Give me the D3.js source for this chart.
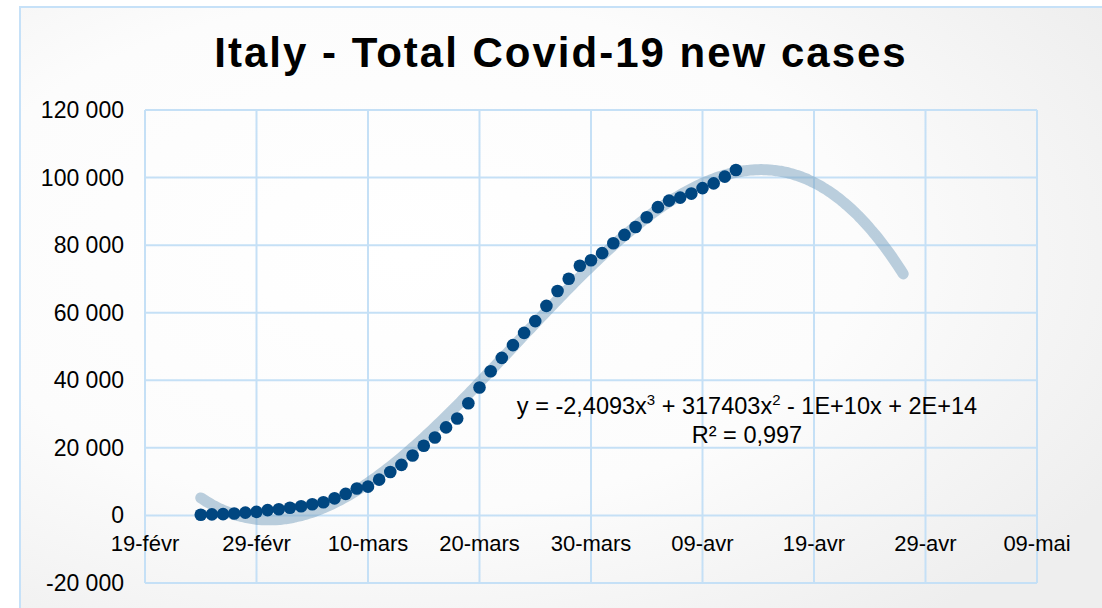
<!DOCTYPE html>
<html>
<head>
<meta charset="utf-8">
<script src="https://cdn.jsdelivr.net/npm/d3@7"></script>
<style>
  body { margin: 0; background: #fff; }
  text { font-family: "Liberation Sans", Arial, sans-serif; fill: #000; }
</style>
</head>
<body>
<div id="chart"></div>
<script>
// Italy - total positive cases, one value per day starting 24 Feb 2020
const startDate = "2020-02-24";
const cases = [
  221, 311, 385, 588, 821, 1049, 1577, 1835, 2263, 2706,
  3296, 3916, 5061, 6387, 7985, 8514, 10590, 12839, 14955, 17750,
  20603, 23073, 26062, 28710, 33190, 37860, 42681, 46638, 50418, 54030,
  57521, 62013, 66414, 70065, 73880, 75528, 77635, 80572, 83049, 85388,
  88274, 91246, 93187, 94067, 95262, 96877, 98273, 100269, 102253
];
const forwardDays = 15;   // trendline forecast
const xTickDates = ["2020-02-19", "2020-02-29", "2020-03-10", "2020-03-20", "2020-03-30",
                    "2020-04-09", "2020-04-19", "2020-04-29", "2020-05-09"];
const xTickLabels = ["19-févr", "29-févr", "10-mars", "20-mars", "30-mars",
                     "09-avr", "19-avr", "29-avr", "09-mai"];
const yTicks = [-20000, 0, 20000, 40000, 60000, 80000, 100000, 120000];
const title = "Italy - Total Covid-19 new cases";
const eqLine1 = ["y = -2,4093x", "3", " + 317403x", "2", " - 1E+10x + 2E+14"];
const eqLine2 = "R² = 0,997";

const width = 1102, height = 608;
const margin = {left: 145, right: 65, top: 110, bottom: 25};

const svg = d3.select("#chart").append("svg")
    .attr("width", width)
    .attr("height", height);

// background
let defs = svg.append("defs");
let grad = defs.append("radialGradient")
    .attr("id", "bg")
    .attr("cx", "35%").attr("cy", "40%").attr("r", "75%");
grad.append("stop").attr("offset", "0%").attr("stop-color", "#ffffff");
grad.append("stop").attr("offset", "55%").attr("stop-color", "#fcfcfc");
grad.append("stop").attr("offset", "100%").attr("stop-color", "#eeeeee");

svg.append("rect")
    .attr("x", 20).attr("y", 7)
    .attr("width", 1100).attr("height", 620)
    .attr("fill", "url(#bg)")
    .attr("stroke", "#c6e1f8")
    .attr("stroke-width", 2);

const parse = d3.utcParse("%Y-%m-%d");
const t0 = parse(startDate);
const points = cases.map((v, i) => ({date: d3.utcDay.offset(t0, i), value: v, i: i}));

const x = d3.scaleUtc()
    .domain([parse(xTickDates[0]), parse(xTickDates[xTickDates.length - 1])])
    .range([margin.left, width - margin.right]);
const y = d3.scaleLinear()
    .domain([d3.min(yTicks), d3.max(yTicks)])
    .range([height - margin.bottom, margin.top]);

const fr = d3.formatLocale({decimal: ",", thousands: " ", grouping: [3], currency: ["", " €"], minus: "-"});
const fmt = fr.format(",d");

// grid
const gridColor = "#c5e0f6";
svg.append("g").selectAll("line.h")
    .data(yTicks).join("line")
    .attr("x1", x.range()[0]).attr("x2", x.range()[1])
    .attr("y1", d => y(d)).attr("y2", d => y(d))
    .attr("stroke", gridColor).attr("stroke-width", 2);
svg.append("g").selectAll("line.v")
    .data(xTickDates).join("line")
    .attr("x1", d => x(parse(d))).attr("x2", d => x(parse(d)))
    .attr("y1", y.range()[0]).attr("y2", y.range()[1])
    .attr("stroke", gridColor).attr("stroke-width", 2);

// y labels
svg.append("g").selectAll("text")
    .data(yTicks).join("text")
    .attr("x", 124)
    .attr("y", d => y(d) + 8)
    .attr("text-anchor", "end")
    .style("font-size", "23px")
    .text(d => fmt(d));

// x labels (sit just under the zero line)
svg.append("g").selectAll("text")
    .data(xTickDates).join("text")
    .attr("x", d => x(parse(d)))
    .attr("y", y(0) + 36)
    .attr("text-anchor", "middle")
    .style("font-size", "22px")
    .text((d, i) => xTickLabels[i]);

// cubic polynomial trendline (least squares on day index)
function polyFit(xs, ys, deg) {
    let n = deg + 1;
    let A = [];
    for (let r = 0; r < n; r++) {
        A.push([]);
        for (let c = 0; c < n; c++) A[r].push(d3.sum(xs, v => Math.pow(v, r + c)));
        A[r].push(d3.sum(xs, (v, k) => ys[k] * Math.pow(v, r)));
    }
    for (let p = 0; p < n; p++) {
        let m = p;
        for (let r = p + 1; r < n; r++) if (Math.abs(A[r][p]) > Math.abs(A[m][p])) m = r;
        [A[p], A[m]] = [A[m], A[p]];
        for (let r = 0; r < n; r++) {
            if (r == p) continue;
            let f = A[r][p] / A[p][p];
            for (let c = p; c <= n; c++) A[r][c] -= f * A[p][c];
        }
    }
    return A.map((row, k) => row[n] / row[k]);
}
const xs = points.map(d => d.i / 10);
const coef = polyFit(xs, cases, 3);
const trend = d3.range(0, (cases.length - 1 + forwardDays) * 4 + 1).map(k => {
    let t = k / 40;
    return {date: new Date(t0.getTime() + k / 4 * 864e5),
            value: coef[0] + coef[1] * t + coef[2] * t * t + coef[3] * t * t * t};
});

svg.append("path")
    .datum(trend)
    .attr("d", d3.line().x(d => x(d.date)).y(d => y(d.value)).curve(d3.curveBasis))
    .attr("fill", "none")
    .attr("stroke", "rgb(120,160,190)")
    .attr("stroke-opacity", 0.5)
    .attr("stroke-width", 11)
    .attr("stroke-linecap", "round");

// points
svg.append("g").selectAll("circle")
    .data(points).join("circle")
    .attr("cx", d => x(d.date))
    .attr("cy", d => y(d.value))
    .attr("r", 6.3)
    .attr("fill", "#004680");

// equation
let eq = svg.append("text")
    .attr("x", 747).attr("y", 414)
    .attr("text-anchor", "middle")
    .style("font-size", "23.5px");
eqLine1.forEach((s, i) => {
    let ts = eq.append("tspan").text(s);
    if (i % 2 == 1) ts.attr("dy", -9).style("font-size", "15px");
    else if (i > 0) ts.attr("dy", 9);
});
svg.append("text")
    .attr("x", 747).attr("y", 443)
    .attr("text-anchor", "middle")
    .style("font-size", "23.5px")
    .text(eqLine2);

// title
svg.append("text")
    .attr("x", 561).attr("y", 67)
    .attr("text-anchor", "middle")
    .style("font-size", "42px")
    .style("font-weight", "bold")
    .style("letter-spacing", "2px")
    .text(title);
</script>
</body>
</html>
